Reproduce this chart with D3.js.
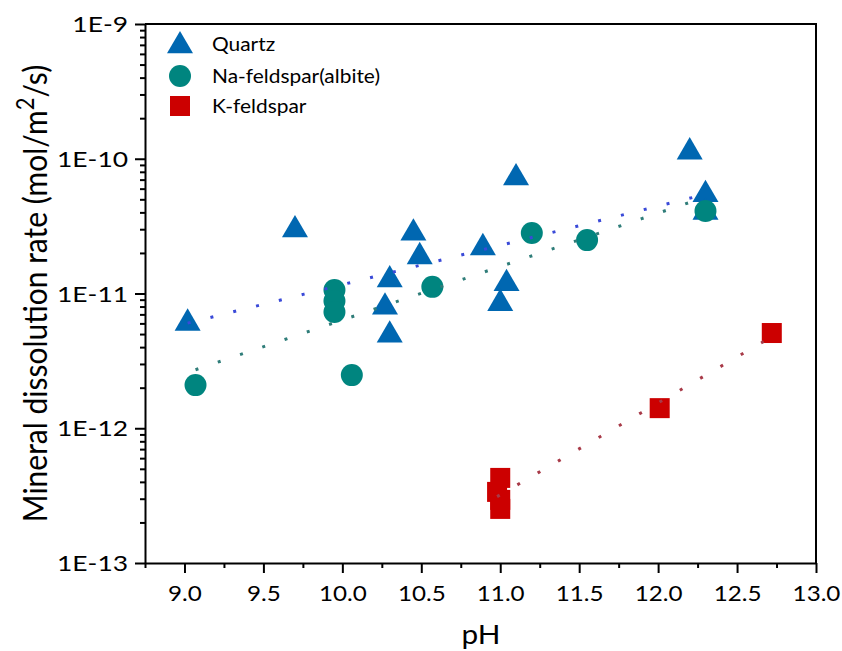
<!DOCTYPE html>
<html>
<head>
<meta charset="utf-8">
<script src="https://cdn.jsdelivr.net/npm/d3@7"></script>
<style>
  html, body { margin: 0; padding: 0; background: #fff; }
  svg { display: block; font-family: Lato, "Open Sans", sans-serif; }
</style>
</head>
<body>
<svg id="chart" width="842" height="651"></svg>
<script>
// Dissolution rates (mol/m2/s) against pH for three minerals
const quartzPH   = [9.02, 9.70, 10.45, 10.49, 10.30, 10.27, 10.30, 10.89, 11.10, 11.04, 11.00, 12.20, 12.30, 12.30];
const quartzRate = [6.0e-12, 2.96e-11, 2.8e-11, 1.87e-11, 1.26e-11, 7.9e-12, 4.9e-12, 2.18e-11, 7.2e-11, 1.18e-11, 8.4e-12, 1.12e-10, 5.4e-11, 4.0e-11];

const albitePH   = [9.07, 9.95, 9.95, 9.95, 10.06, 10.57, 11.20, 11.55, 12.30];
const albiteRate = [2.09e-12, 1.06e-11, 8.8e-12, 7.3e-12, 2.48e-12, 1.12e-11, 2.81e-11, 2.49e-11, 4.1e-11];

const kfeldPH    = [12.72, 12.01, 11.00, 10.98, 11.00, 11.00];
const kfeldRate  = [5.09e-12, 1.41e-12, 4.28e-13, 3.37e-13, 2.94e-13, 2.52e-13];

const xTicks = [9.0, 9.5, 10.0, 10.5, 11.0, 11.5, 12.0, 12.5, 13.0];
const yTicks = [1e-13, 1e-12, 1e-11, 1e-10, 1e-9];
const yTickLabels = ["1E-13", "1E-12", "1E-11", "1E-10", "1E-9"];

const seriesNames = ["Quartz", "Na-feldspar(albite)", "K-feldspar"];
const colors = { quartz: "#0067b1", albite: "#00857f", kfeld: "#cc0000" };
const trendColors = { quartz: "#3a4ad8", albite: "#2f7d79", kfeld: "#a83a48" };

const svg = d3.select("#chart");
const plot = { left: 145, right: 816, top: 24, bottom: 563 };

const x = d3.scaleLinear().domain([8.75, 13.0]).range([plot.left, plot.right]);
const y = d3.scaleLog().domain([1e-13, 1e-9]).range([plot.bottom, plot.top]);

// minor ticks
const xMinor = d3.range(8.75, 13.001, 0.25).filter(v => !xTicks.some(t => Math.abs(t - v) < 1e-6));
const yMinor = [];
[-13, -12, -11, -10].forEach(e => { for (let k = 2; k <= 9; k++) yMinor.push(k * Math.pow(10, e)); });

const axisG = svg.append("g");

// x axis
const xAxis = axisG.append("g").attr("transform", `translate(0,${plot.bottom})`)
  .call(d3.axisBottom(x).tickValues(xTicks).tickFormat(d3.format(".1f")).tickSize(10).tickSizeOuter(0));
axisG.append("g").attr("transform", `translate(0,${plot.bottom})`)
  .call(d3.axisBottom(x).tickValues(xMinor).tickFormat("").tickSize(5).tickSizeOuter(0))
  .select(".domain").remove();
xAxis.selectAll("text").attr("y", 0).attr("dy", null).attr("transform", "translate(0,38) scale(1.1,1)")
  .attr("font-size", 22).attr("font-family", "Lato").attr("fill", "#000");

// y axis
const yAxis = axisG.append("g").attr("transform", `translate(${plot.left},0)`)
  .call(d3.axisLeft(y).tickValues(yTicks).tickFormat((d, i) => yTickLabels[i]).tickSize(10).tickSizeOuter(0));
axisG.append("g").attr("transform", `translate(${plot.left},0)`)
  .call(d3.axisLeft(y).tickValues(yMinor).tickFormat("").tickSize(5).tickSizeOuter(0))
  .select(".domain").remove();
yAxis.selectAll("text").attr("x", 0).attr("dy", "0.35em")
  .attr("transform", "translate(-17,0) scale(1.2,1)")
  .attr("font-size", 22).attr("font-family", "Lato").attr("fill", "#000");

axisG.selectAll(".tick line").attr("stroke", "#000").attr("stroke-width", 2);
axisG.selectAll(".domain").attr("stroke", "#000").attr("stroke-width", 2);

// frame on top and right
svg.append("path")
  .attr("d", `M${plot.left},${plot.top}H${plot.right}V${plot.bottom}`)
  .attr("fill", "none").attr("stroke", "#000").attr("stroke-width", 2);

// axis titles
svg.append("text").attr("transform", "translate(481,644) scale(1.1,1)").attr("text-anchor", "middle")
  .attr("font-size", 27).attr("fill", "#000").text("pH");

const yTitle = svg.append("text")
  .attr("transform", `translate(47,${(plot.top + plot.bottom) / 2}) scale(1.12,1) rotate(-90)`)
  .attr("text-anchor", "middle").attr("font-size", 30).attr("fill", "#000");
yTitle.append("tspan").text("Mineral dissolution rate (mol/m");
yTitle.append("tspan").attr("font-size", 22).attr("dy", -12).text("2");
yTitle.append("tspan").attr("dy", 12).text("/s)");

// marker shapes
const triPath = (s) => `M0,${-s * 0.58}L${s / 2},${s * 0.28}L${-s / 2},${s * 0.28}Z`;
const g = svg.append("g");

function drawTriangles(xs, ys, color) {
  g.append("g").selectAll("path").data(xs.map((v, i) => [v, ys[i]])).join("path")
    .attr("d", triPath(26))
    .attr("transform", d => `translate(${x(d[0])},${y(d[1])})`)
    .attr("fill", color);
}
function drawCircles(xs, ys, color) {
  g.append("g").selectAll("circle").data(xs.map((v, i) => [v, ys[i]])).join("circle")
    .attr("cx", d => x(d[0])).attr("cy", d => y(d[1])).attr("r", 11)
    .attr("fill", color);
}
function drawSquares(xs, ys, color) {
  g.append("g").selectAll("rect").data(xs.map((v, i) => [v, ys[i]])).join("rect")
    .attr("x", d => x(d[0]) - 10).attr("y", d => y(d[1]) - 10)
    .attr("width", 20).attr("height", 20)
    .attr("fill", color);
}

drawTriangles(quartzPH, quartzRate, colors.quartz);
drawCircles(albitePH, albiteRate, colors.albite);
drawSquares(kfeldPH, kfeldRate, colors.kfeld);

// exponential trend: least squares of log10(rate) against pH
function expFit(xs, ys) {
  const ly = ys.map(Math.log10);
  const mx = d3.mean(xs), my = d3.mean(ly);
  let sxy = 0, sxx = 0;
  xs.forEach((v, i) => { sxy += (v - mx) * (ly[i] - my); sxx += (v - mx) * (v - mx); });
  const b = sxy / sxx, a = my - b * mx;
  const [x0, x1] = d3.extent(xs);
  return d3.range(0, 41).map(k => {
    const xv = x0 + (x1 - x0) * k / 40;
    return [xv, Math.pow(10, a + b * xv)];
  });
}
const line = d3.line().x(d => x(d[0])).y(d => y(d[1]));
[[quartzPH, quartzRate, trendColors.quartz],
 [albitePH, albiteRate, trendColors.albite],
 [kfeldPH, kfeldRate, trendColors.kfeld]].forEach(([xs, ys, c]) => {
  g.append("path").attr("d", line(expFit(xs, ys)))
    .attr("fill", "none").attr("stroke", c).attr("stroke-width", 3)
    .attr("stroke-dasharray", "3 20.5");
});

// legend
const legend = svg.append("g");
const legendRows = [44, 76, 106];
legend.append("path").attr("d", triPath(26)).attr("transform", `translate(180,${legendRows[0] + 2})`).attr("fill", colors.quartz);
legend.append("circle").attr("cx", 180).attr("cy", legendRows[1]).attr("r", 11).attr("fill", colors.albite);
legend.append("rect").attr("x", 170).attr("y", legendRows[2] - 10).attr("width", 20).attr("height", 20).attr("fill", colors.kfeld);
seriesNames.forEach((name, i) => {
  legend.append("text").attr("transform", `translate(212,${legendRows[i]}) scale(1.1,1)`).attr("dy", "0.35em")
    .attr("font-size", 19).attr("fill", "#000").text(name);
});
</script>
</body>
</html>
